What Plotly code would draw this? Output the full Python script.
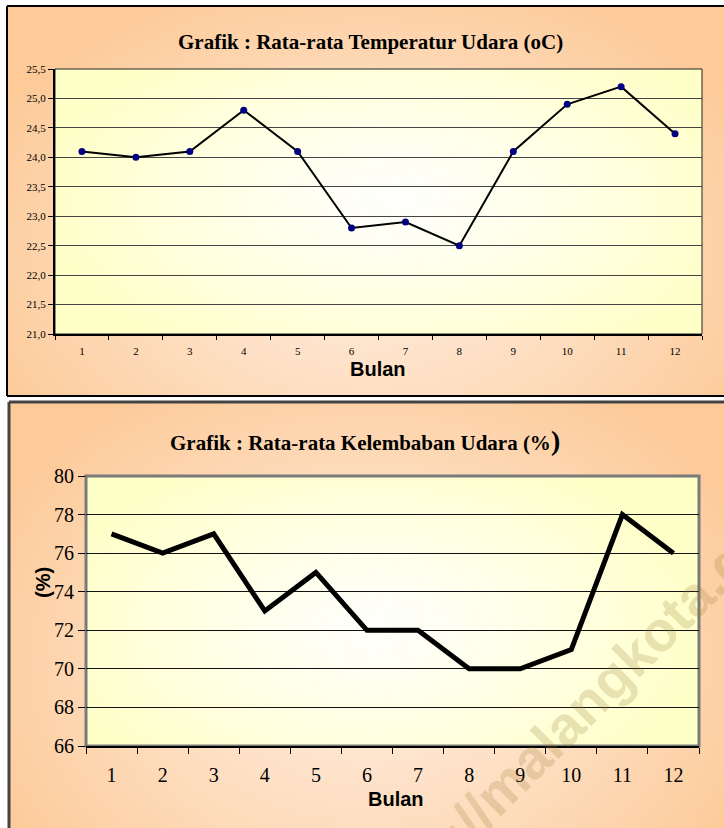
import numpy as np
import zlib, struct, base64
import plotly.graph_objects as go

# ---------------- data ----------------
months = [str(i) for i in range(1, 13)]
temperature = [24.1, 24.0, 24.1, 24.8, 24.1, 22.8, 22.9, 22.5, 24.1, 24.9, 25.2, 24.4]
humidity = [77, 76, 77, 73, 75, 72, 72, 70, 70, 71, 78, 76]

title_temp = "Grafik : Rata-rata Temperatur Udara (oC)"
title_hum = "Grafik : Rata-rata Kelembaban Udara (%"
x_title = "Bulan"
y_title_hum = "(%)"
watermark = "http://malangkota.go.id"

W, H = 724, 828


def px(x):
    return x / W


def py(y):
    return 1 - y / H


def png_uri(arr):
    h, w, _ = arr.shape
    raw = b"".join(b"\x00" + arr[i].tobytes() for i in range(h))

    def chunk(tag, data):
        c = struct.pack(">I", len(data)) + tag + data
        return c + struct.pack(">I", zlib.crc32(tag + data) & 0xFFFFFFFF)

    png = b"\x89PNG\r\n\x1a\n"
    png += chunk(b"IHDR", struct.pack(">IIBBBBB", w, h, 8, 2, 0, 0, 0))
    png += chunk(b"IDAT", zlib.compress(raw, 9))
    png += chunk(b"IEND", b"")
    return "data:image/png;base64," + base64.b64encode(png).decode()


def gradient(w, h, cx, cy, rx, ry, center, edge, p=1.3, scale=4):
    ws, hs = max(2, w // scale), max(2, h // scale)
    xs = (np.arange(ws) + 0.5) * w / ws
    ys = (np.arange(hs) + 0.5) * h / hs
    X, Y = np.meshgrid(xs, ys)
    d = np.sqrt(((X - cx) / rx) ** 2 + ((Y - cy) / ry) ** 2)
    t = np.clip(d, 0, 1) ** p
    c = np.array(center, float)
    e = np.array(edge, float)
    img = c[None, None, :] * (1 - t[..., None]) + e[None, None, :] * t[..., None]
    return png_uri(np.clip(img, 0, 255).astype(np.uint8))


def img(src, x0, y0, x1, y1):
    return dict(source=src, xref="paper", yref="paper", x=px(x0), y=py(y0),
                sizex=(x1 - x0) / W, sizey=(y1 - y0) / H, xanchor="left",
                yanchor="top", sizing="stretch", layer="below")


orange = (253, 202, 152)
peach_c = (255, 236, 220)
yellow = (255, 255, 200)
white_c = (255, 255, 252)

# box geometry (clipped to the page)
tb = (7, 6, 724, 396)
bb = (9, 402, 724, 828)
tp = (55, 69, 702, 334)
bp = (86, 476, 699, 746)

images = [
    img(gradient(tb[2] - tb[0], tb[3] - tb[1], 365, 250, 430, 300, peach_c, orange), *tb),
    img(gradient(bb[2] - bb[0], bb[3] - bb[1], 360, 260, 430, 330, peach_c, orange), *bb),
    img(gradient(tp[2] - tp[0], tp[3] - tp[1], 340, 130, 360, 190, white_c, yellow, p=1.2), *tp),
    img(gradient(bp[2] - bp[0], bp[3] - bp[1], 290, 150, 340, 190, white_c, yellow, p=1.2), *bp),
]

fig = go.Figure()
fig.add_trace(go.Scatter(
    x=months, y=temperature, xaxis="x", yaxis="y", mode="lines+markers",
    line=dict(color="black", width=2),
    marker=dict(color="#000080", size=7), showlegend=False, hoverinfo="skip"))
fig.add_trace(go.Scatter(
    x=months, y=humidity, xaxis="x2", yaxis="y2", mode="lines",
    line=dict(color="black", width=5), showlegend=False, hoverinfo="skip"))

serif = "Liberation Serif, Times New Roman, serif"
sans = "Liberation Sans, Arial, sans-serif"

fig.update_layout(
    width=W, height=H, margin=dict(l=0, r=0, t=0, b=0, pad=0, autoexpand=False),
    paper_bgcolor="white", plot_bgcolor="rgba(0,0,0,0)",
    separators=",.", showlegend=False,
    images=images,
    xaxis=dict(domain=[px(tp[0]), px(tp[2])], anchor="y", type="category",
               categoryorder="array", categoryarray=months, range=[-0.5, 11.5],
               tickson="boundaries", ticks="outside", ticklen=4, tickwidth=1,
               tickcolor="black", showline=True, linecolor="black", linewidth=2,
               showgrid=False, zeroline=False, automargin=False,
               tickfont=dict(family=serif, size=11, color="black"),
               ticklabelstandoff=6),
    yaxis=dict(domain=[py(tp[3]), py(tp[1])], anchor="x", range=[21, 25.5],
               dtick=0.5, tick0=21, tickformat=".1f", ticks="outside", ticklen=5,
               tickcolor="black", showline=True, linecolor="black", linewidth=2,
               showgrid=True, gridcolor="#444444", gridwidth=1, zeroline=False,
               automargin=False,
               tickfont=dict(family=serif, size=11, color="black")),
    xaxis2=dict(domain=[px(bp[0]), px(bp[2])], anchor="y2", type="category",
                categoryorder="array", categoryarray=months, range=[-0.5, 11.5],
                tickson="boundaries", ticks="outside", ticklen=6, tickwidth=1,
                tickcolor="black", showline=True, linecolor="black", linewidth=2,
                showgrid=False, zeroline=False, automargin=False,
                tickfont=dict(family=serif, size=20, color="black"),
                ticklabelstandoff=10),
    yaxis2=dict(domain=[py(bp[3]), py(bp[1])], anchor="x2", range=[66, 80],
                dtick=2, tick0=66, ticks="outside", ticklen=7, tickcolor="black",
                showline=False, showgrid=True, gridcolor="#111111", gridwidth=1,
                zeroline=False, automargin=False,
                tickfont=dict(family=serif, size=20, color="black")),
)


def seg(x0, y0, x1, y1, color, width):
    return dict(type="line", xref="paper", yref="paper", x0=px(x0), y0=py(y0),
                x1=px(x1), y1=py(y1), line=dict(color=color, width=width), layer="above")


shapes = [
    # outer chart borders (visible sides only)
    seg(tb[0], tb[1], tb[2], tb[1], "black", 2),
    seg(tb[0], tb[1], tb[0], tb[3], "black", 2),
    seg(tb[0], tb[3], tb[2], tb[3], "black", 2),
    seg(bb[0], bb[1], bb[2], bb[1], "#444444", 3),
    seg(bb[0], bb[1], bb[0], bb[3], "#444444", 3),
    # plot area borders
    dict(type="rect", xref="x domain", yref="y domain", x0=0, y0=0, x1=1, y1=1,
         line=dict(color="#222222", width=1), layer="below"),
    dict(type="rect", xref="x2 domain", yref="y2 domain", x0=0, y0=0, x1=1, y1=1,
         line=dict(color="#7a7a7a", width=3), layer="below"),
]
fig.update_layout(shapes=shapes)


def ann(text, x, y, size, family, angle=0, color="black"):
    return dict(text=text, x=px(x), y=py(y), xref="paper", yref="paper",
                xanchor="center", yanchor="middle", showarrow=False,
                textangle=angle, font=dict(family=family, size=size, color=color))


annotations = [
    ann("<b>" + title_temp + "</b>", 370, 42, 21, serif),
    ann("<b>" + x_title + "</b>", 378, 369, 20, sans),
    ann("<b>" + title_hum + "<span style='font-size:28px'>)</span></b>", 365, 440, 21, serif),
    ann("<b>" + x_title + "</b>", 396, 799, 20, sans),
    ann("<b>" + y_title_hum + "</b>", 43, 583, 20, sans, angle=-90),
    ann("<b>" + watermark + "</b>", 592, 697, 56, sans, angle=-45,
        color="rgba(150,125,50,0.22)"),
]
fig.update_layout(annotations=annotations)

fig.write_html("out.html", config={"displayModeBar": False},
               post_script="document.body.style.margin='0px';")
